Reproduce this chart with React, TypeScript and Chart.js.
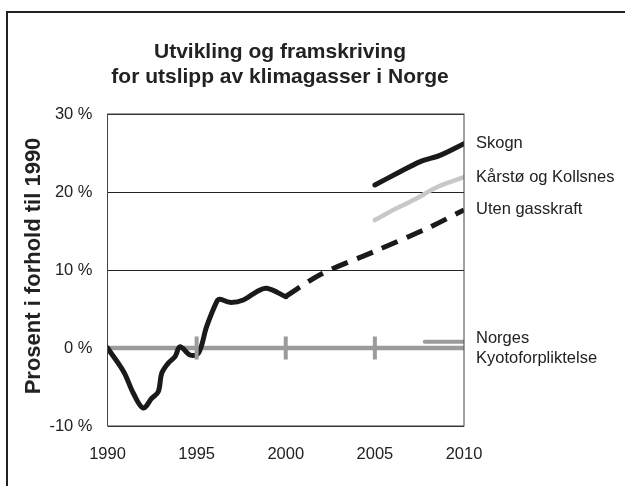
import React, { useEffect, useRef } from "react";
import { Chart, registerables } from "chart.js";
Chart.register(...registerables);

const titleLines = ["Utvikling og framskriving", "for utslipp av klimagasser i Norge"];
const yAxisTitle = "Prosent i forhold til 1990";
const yTicks = [-10, 0, 10, 20, 30];
const xTicks = [1990, 1995, 2000, 2005, 2010];

const histYears = [1990, 1990.9, 1991.45, 1992, 1992.48, 1992.85, 1993.04, 1993.4, 1993.79, 1994.07, 1994.63, 1995.1, 1995.56, 1996.13, 1996.3, 1996.87, 1997.62, 1998.37, 1998.93, 2000];
const histValues = [0, -3.0, -5.8, -7.7, -6.45, -5.6, -3.25, -1.97, -1.1, 0.17, -0.9, -0.68, 2.73, 5.94, 6.24, 5.85, 6.15, 7.22, 7.65, 6.58];

const utenYears = [2000, 2002, 2005, 2008, 2010];
const utenValues = [6.6, 9.5, 12.4, 15.4, 17.7];

const skognYears = [2005, 2006.25, 2007.55, 2008.65, 2010];
const skognValues = [20.9, 22.4, 23.9, 24.7, 26.2];

const karstoYears = [2005, 2005.87, 2007.2, 2008.47, 2010];
const karstoValues = [16.4, 17.5, 19.0, 20.6, 21.9];

const kyotoYears = [1990, 2010];
const kyotoValues = [0, 0];
const kyotoMarkYears = [1995, 2000, 2005];
const kyotoMarkValues = [0, 0, 0];
const commitYears = [2007.8, 2010];
const commitValues = [0.8, 0.8];

const seriesLabels = ["Skogn", "Kårstø og Kollsnes", "Uten gasskraft"];
const kyotoLabel = ["Norges", "Kyotoforpliktelse"];

const pts = (xs: number[], ys: number[]) => xs.map((x, i) => ({ x, y: ys[i] }));

const FONT = "'Liberation Sans', Arial, sans-serif";

const decorPlugin = {
  id: "decor",
  beforeDraw(chart: any) {
    const { ctx } = chart;
    ctx.save();
    ctx.fillStyle = "#fff";
    ctx.fillRect(0, 0, chart.width, chart.height);
    ctx.strokeStyle = "#222";
    ctx.lineWidth = 2;
    ctx.strokeRect(7, 12, 800, 800);
    ctx.fillStyle = "#222";
    ctx.font = `bold 21px ${FONT}`;
    ctx.textAlign = "center";
    ctx.textBaseline = "middle";
    ctx.fillText(titleLines[0], 280, 52);
    ctx.fillText(titleLines[1], 280, 77);
    ctx.save();
    ctx.translate(34, 266);
    ctx.rotate(-Math.PI / 2);
    ctx.font = `bold 22px ${FONT}`;
    ctx.fillText(yAxisTitle, 0, 0);
    ctx.restore();
    ctx.restore();
  },
  afterDatasetsDraw(chart: any) {
    const { ctx, chartArea, scales } = chart;
    ctx.save();
    ctx.strokeStyle = "#444";
    ctx.lineWidth = 1;
    ctx.strokeRect(chartArea.left, chartArea.top, chartArea.right - chartArea.left, chartArea.bottom - chartArea.top);
    ctx.fillStyle = "#222";
    ctx.font = `16.5px ${FONT}`;
    ctx.textAlign = "left";
    ctx.textBaseline = "middle";
    const lx = chartArea.right + 12;
    const ends = [skognValues, karstoValues, utenValues];
    ends.forEach((vals, i) => {
      ctx.fillText(seriesLabels[i], lx, scales.y.getPixelForValue(vals[vals.length - 1]));
    });
    const y0 = scales.y.getPixelForValue(kyotoValues[kyotoValues.length - 1]);
    ctx.fillText(kyotoLabel[0], lx, y0 - 10);
    ctx.fillText(kyotoLabel[1], lx, y0 + 10);
    ctx.restore();
  },
};

export default function App() {
  const ref = useRef<HTMLCanvasElement | null>(null);
  useEffect(() => {
    if (!ref.current) return;
    const gray = "#9a9b9d";
    const chart = new Chart(ref.current, {
      type: "line",
      data: {
        datasets: [
          {
            data: pts(kyotoMarkYears, kyotoMarkValues),
            showLine: false,
            pointStyle: "line",
            rotation: 90,
            pointRadius: 11.5,
            pointBorderWidth: 4,
            pointBorderColor: gray,
            borderColor: gray,
            order: 0,
          } as any,
          {
            data: pts(histYears, histValues),
            borderColor: "#1a1a1a",
            borderWidth: 5,
            tension: 0.35,
            pointRadius: 0,
            borderCapStyle: "round",
            borderJoinStyle: "round",
            order: 1,
          },
          {
            data: pts(utenYears, utenValues),
            borderColor: "#1a1a1a",
            borderWidth: 5,
            borderDash: [17, 10],
            tension: 0.3,
            pointRadius: 0,
            order: 2,
          },
          {
            data: pts(skognYears, skognValues),
            borderColor: "#1a1a1a",
            borderWidth: 5,
            tension: 0.3,
            pointRadius: 0,
            borderCapStyle: "round",
            order: 2,
          },
          {
            data: pts(karstoYears, karstoValues),
            borderColor: "#c8c8c8",
            borderWidth: 4.5,
            tension: 0.3,
            pointRadius: 0,
            borderCapStyle: "round",
            order: 3,
          },
          {
            data: pts(commitYears, commitValues),
            borderColor: gray,
            borderWidth: 4,
            pointRadius: 0,
            borderCapStyle: "round",
            order: 4,
          },
          {
            data: pts(kyotoYears, kyotoValues),
            borderColor: gray,
            borderWidth: 4.5,
            pointRadius: 0,
            order: 5,
          },
        ],
      },
      options: {
        animation: false,
        responsive: false,
        maintainAspectRatio: false,
        layout: { padding: { left: 15, top: 114, right: 161, bottom: 0 } },
        plugins: { legend: { display: false }, tooltip: { enabled: false }, title: { display: false } },
        scales: {
          x: {
            type: "linear",
            min: xTicks[0],
            max: xTicks[xTicks.length - 1],
            afterFit: (s: any) => { s.height = 60; },
            afterBuildTicks: (s: any) => { s.ticks = xTicks.map((v) => ({ value: v })); },
            grid: { display: false, drawTicks: false },
            border: { display: false },
            ticks: {
              padding: 19,
              color: "#222",
              font: { family: FONT, size: 16.5 },
              callback: (v: any) => String(v),
              maxRotation: 0,
            },
          },
          y: {
            type: "linear",
            min: yTicks[0],
            max: yTicks[yTicks.length - 1],
            afterFit: (s: any) => { s.width = 92.5; },
            afterBuildTicks: (s: any) => { s.ticks = yTicks.map((v) => ({ value: v })); },
            grid: { color: "#222", lineWidth: 1, drawTicks: false },
            border: { display: false },
            ticks: {
              padding: 15,
              color: "#222",
              font: { family: FONT, size: 16.5 },
              callback: (v: any) => `${v} %`,
            },
          },
        },
      },
      plugins: [decorPlugin],
    });
    return () => chart.destroy();
  }, []);
  return (
    <canvas
      ref={ref}
      width={625}
      height={486}
      style={{ position: "absolute", left: 0, top: 0, width: 625, height: 486 }}
    />
  );
}
